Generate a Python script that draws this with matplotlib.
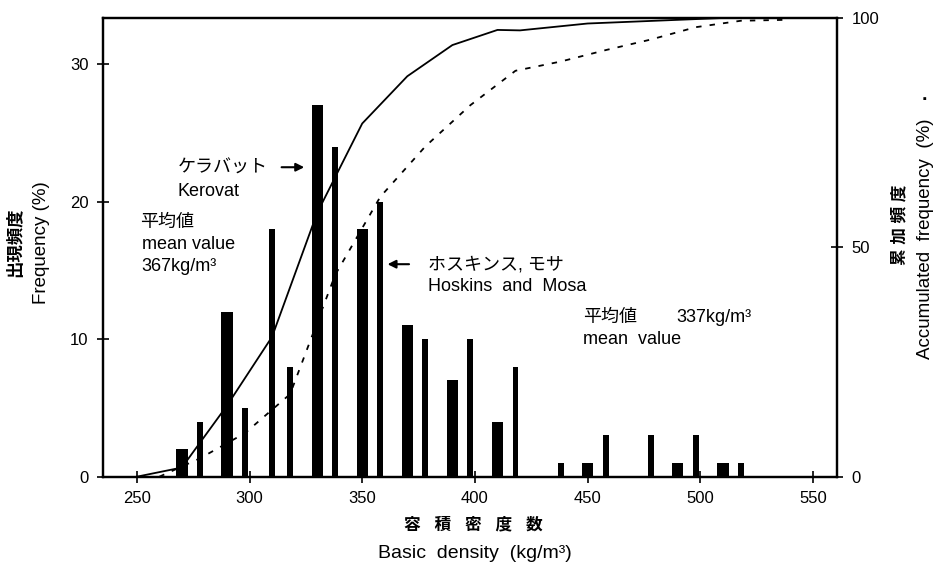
import matplotlib
matplotlib.use('Agg')
import matplotlib.pyplot as plt

plt.rcParams['font.family'] = ['Liberation Sans', 'Noto Sans CJK JP']
plt.rcParams['font.size'] = 12

# Kerovat-side bars (wide)
wide_x = [270, 290, 310, 330, 350, 370, 390, 410, 450, 490, 510]
wide_freq = [2, 12, 18, 27, 18, 11, 7, 4, 1, 1, 1]
# Hoskins and Mosa-side bars (narrow)
narrow_x = [278, 298, 318, 338, 358, 378, 398, 418, 438, 458, 478, 498, 518]
narrow_freq = [4, 5, 8, 24, 20, 10, 10, 8, 1, 3, 3, 3, 1]

# Accumulated frequency curves
solid_x = [250, 270, 290, 310, 330, 350, 370, 390, 410, 420, 430, 450, 490, 510, 540]
solid_cum = [0, 2, 15.5, 30.5, 57.5, 77, 87.3, 94.1, 97.4, 97.3, 97.8, 98.8, 99.6, 100, 100]
dash_x = [260, 278, 298, 318, 338, 358, 378, 398, 418, 438, 458, 478, 498, 518, 538]
dash_cum = [0, 4, 9.5, 18, 44, 61, 72, 81, 88.5, 90.5, 93, 95.3, 98, 99.4, 99.6]

x_ticks = [250, 300, 350, 400, 450, 500, 550]
left_ticks = [0, 10, 20, 30]
right_ticks = [0, 50, 100]

W, H = 938, 567
fig = plt.figure(figsize=(W / 100, H / 100), dpi=100)
ax = fig.add_axes([103 / W, 1 - 476.7 / H, (836.7 - 103) / W, (476.7 - 18) / H])

wide_w = [5.0] * len(wide_x)
wide_w[2] = 2.6
ax.bar(wide_x, wide_freq, width=wide_w, color='black', zorder=2)
ax.bar(narrow_x, narrow_freq, width=2.6, color='black', zorder=2)

ax.set_xlim(235, 560.5)
ax.set_ylim(0, 33.35)
ax.set_xticks(x_ticks)
ax.set_yticks(left_ticks)
ax.tick_params(axis='both', direction='inout', length=9, width=1.2, labelsize=12, color='black')
ax.tick_params(axis='x', pad=6)
ax.tick_params(axis='y', pad=6)
for s in ax.spines.values():
    s.set_linewidth(1.6)

ax2 = ax.twinx()
ax2.set_ylim(0, 100)
ax2.set_yticks(right_ticks)
ax2.tick_params(axis='y', direction='inout', length=9, width=1.2, labelsize=12, pad=6)
for s in ax2.spines.values():
    s.set_linewidth(1.6)
ax2.plot(solid_x, solid_cum, color='black', lw=1.3, zorder=3)
ax2.plot(dash_x, dash_cum, color='black', lw=1.3, dashes=(3, 4.5), zorder=3)

fs = 13
# annotations
ax.text(268.2, 22.4, 'ケラバット', ha='left', va='center', fontsize=fs)
ax.annotate('', xy=(325.5, 22.5), xytext=(313, 22.5),
            arrowprops=dict(arrowstyle='-|>', lw=1.5, color='black', mutation_scale=12))
ax.text(268.2, 20.7, 'Kerovat', ha='left', va='center', fontsize=fs)
ax.text(251.5, 18.45, '平均値', ha='left', va='center', fontsize=fs)
ax.text(252.2, 16.85, 'mean value', ha='left', va='center', fontsize=fs)
ax.text(252.2, 15.27, '367kg/m³', ha='left', va='center', fontsize=fs)

ax.annotate('', xy=(360, 15.45), xytext=(372, 15.45),
            arrowprops=dict(arrowstyle='-|>', lw=1.5, color='black', mutation_scale=12))
ax.text(379.4, 15.4, 'ホスキンス, モサ', ha='left', va='center', fontsize=fs)
ax.text(379.4, 13.8, 'Hoskins  and  Mosa', ha='left', va='center', fontsize=fs)
ax.text(447.8, 11.6, '平均値', ha='left', va='center', fontsize=fs)
ax.text(489.2, 11.6, '337kg/m³', ha='left', va='center', fontsize=fs)
ax.text(447.8, 9.94, 'mean  value', ha='left', va='center', fontsize=fs)

# axis labels
fig.text(15 / W, 1 - 242 / H, '出現頻度', rotation=90, ha='center', va='center',
         fontsize=12.5, fontweight='bold')
fig.text(42 / W, 1 - 243 / H, 'Frequency (%)', rotation=90, ha='center', va='center', fontsize=13.5)
fig.text(900 / W, 1 - 225 / H, '累 加 頻 度', rotation=90, ha='center', va='center',
         fontsize=12, fontweight='bold')
fig.text(925 / W, 1 - 239 / H, 'Accumulated  frequency  (%)', rotation=90, ha='center',
         va='center', fontsize=13.5)
fig.text(925 / W, 1 - 100 / H, '·', ha='center', va='center', fontsize=14, fontweight='bold')
fig.text(473 / W, 1 - 525 / H, '容   積   密   度   数', ha='center', va='center',
         fontsize=12, fontweight='bold')
fig.text(475 / W, 1 - 553 / H, 'Basic  density  (kg/m³)', ha='center', va='center', fontsize=14)

fig.savefig('out.png', dpi=100)
